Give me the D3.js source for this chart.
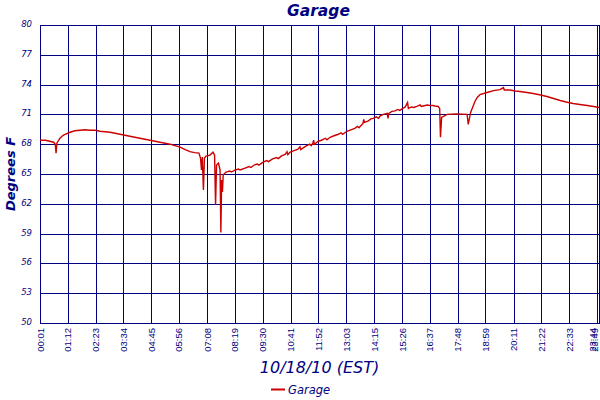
<!DOCTYPE html>
<html><head><meta charset="utf-8">
<script src="https://cdn.jsdelivr.net/npm/d3@7"></script>
<style>
html,body{margin:0;padding:0;background:#fff;}
svg{display:block;}
text{fill:#000080;}
</style></head>
<body><svg id="chart" width="600" height="400"></svg>
<script>
// ---- data ----
const chartTitle = "Garage";
const xAxisTitle = "10/18/10 (EST)";
const yAxisTitle = "Degrees F";
const seriesName = "Garage";
const xTickLabels = ["00:01","01:12","02:23","03:34","04:45","05:56","07:08","08:19","09:30","10:41","11:52","13:03","14:15","15:26","16:37","17:48","18:59","20:11","21:22","22:33","23:44","23:49"];
const yTicks = [50,53,56,59,62,65,68,71,74,77,80];
// readings: [minutes after midnight, degrees F]
const readings = [
  [1,68.4],[15,68.4],[26,68.3],[36,68.2],[40,68.0],[42,67.1],[44,68.1],[52,68.6],[60,68.9],[65,69.0],
  [78,69.2],[90,69.35],[103,69.4],[116,69.45],[129,69.4],[142,69.4],[154,69.3],[167,69.25],[180,69.2],
  [199,69.05],[218,68.9],[237,68.75],[256,68.6],[276,68.45],[295,68.3],[314,68.15],[333,68.0],[346,67.85],
  [359,67.7],[372,67.45],[384,67.25],[396,67.15],[407,67.1],[411,66.6],[413.5,65.4],[415.5,66.7],
  [418.5,63.4],[421,66.6],[425,66.8],[435,66.9],[443,67.2],[447,66.9],[449.5,61.9],[452,65.9],[457,66.1],
  [461,65.4],[463,59.1],[465,64.4],[467,63.2],[469,64.9],
  [476,65.2],[486,65.3],[490,65.2],[499,65.4],[508,65.5],[512,65.4],[525,65.6],[535,65.75],[540,65.65],
  [548,65.9],[556,66.0],[560,65.9],[571,66.2],[580,66.35],[585,66.25],[594,66.5],[605,66.65],[610,66.55],
  [617,66.8],[628,67.0],[632,67.25],[634,66.95],[640,67.2],[650,67.35],[660,67.5],[665,67.75],[667,67.45],
  [680,67.8],[690,68.0],[694,67.85],[698,68.1],[700,68.4],[702,68.0],[712,68.3],[720,68.4],[730,68.6],
  [734,68.45],[742,68.7],[752,68.85],[763,69.0],[770,69.15],[774,69.0],[785,69.3],[795,69.45],[805,69.6],
  [812,69.8],[816,69.65],[826,70.1],[828,70.5],[830,70.2],[840,70.35],[846,70.55],[852,70.6],[860,70.75],
  [866,70.6],[870,70.85],[878,71.0],[888,71.1],[890,70.6],[892,71.1],[900,71.3],[908,71.35],[915,71.5],
  [920,71.4],[928,71.6],[934,71.75],[940,72.2],[942,71.6],[950,71.75],[956,71.7],[964,71.8],[972,71.95],
  [975,71.8],[980,71.85],[990,71.95],[997,71.9],[1005,71.9],[1010,71.85],[1018,71.8],
  [1022,71.6],[1024,68.7],[1027,70.7],[1041,71.0],[1066,71.05],[1092,71.0],[1095,70.0],[1101,71.2],
  [1105,71.6],[1112,72.3],[1118,72.7],[1125,73.0],[1143,73.2],[1160,73.4],[1176,73.5],[1185,73.7],
  [1187,73.45],[1202,73.45],[1215,73.35],[1227,73.3],[1245,73.2],[1261,73.1],[1280,72.95],[1296,72.8],
  [1313,72.6],[1330,72.4],[1345,72.25],[1363,72.1],[1380,72.0],[1399,71.9],[1415,71.8],[1429,71.7]
];

// ---- layout ----
const svg = d3.select("#chart");
const L = 40, R = 599, T = 25, B = 323;
const toMin = s => { const [h,m] = s.split(":").map(Number); return h*60+m; };
const xTickVals = xTickLabels.map(toMin);
const nT = xTickVals.length;
const x = d3.scaleLinear().domain([xTickVals[0], xTickVals[nT-1]]).range([L, R]);
const y = d3.scaleLinear().domain([50, 80]).range([B, T]);
const navy = "#000080";
const px = v => Math.round(v) + 0.5;

// grid
const g = svg.append("g");
g.selectAll("line.h").data(yTicks).join("line")
  .attr("x1", L).attr("x2", R + 1)
  .attr("y1", d => px(y(d))).attr("y2", d => px(y(d)))
  .attr("stroke", navy).attr("stroke-width", 1);
g.selectAll("line.v").data(xTickVals).join("line")
  .attr("y1", T).attr("y2", B + 1)
  .attr("x1", d => px(x(d))).attr("x2", d => px(x(d)))
  .attr("stroke", navy).attr("stroke-width", 1);

// y labels
svg.append("g").selectAll("text").data(yTicks).join("text")
  .attr("x", 32).attr("y", d => y(d) + 2)
  .attr("text-anchor", "end")
  .attr("font-family", "DejaVu Sans").attr("font-style", "italic")
  .attr("font-size", 8.5)
  .text(d => d);

// x labels
svg.append("g").selectAll("text").data(xTickVals).join("text")
  .attr("transform", (d, i) => `translate(${Math.min(x(d) + 3.5, 598 - 2 * (nT - 1 - i))},${B + 5}) rotate(-90)`)
  .attr("text-anchor", "end")
  .attr("font-family", "Liberation Sans")
  .attr("font-size", 9.5)
  .text((d, i) => xTickLabels[i]);

// line
const line = d3.line().x(d => x(d[0])).y(d => y(d[1]));
svg.append("path").datum(readings)
  .attr("d", line).attr("fill", "none")
  .attr("stroke", "#cc0000").attr("stroke-width", 1.4)
  .attr("stroke-linejoin", "miter");

// titles
svg.append("text").attr("x", (L + R) / 2 - 1).attr("y", 16)
  .attr("text-anchor", "middle")
  .attr("font-family", "DejaVu Sans").attr("font-style", "italic").attr("font-weight", "bold")
  .attr("font-size", 15.5).text(chartTitle);
svg.append("text").attr("transform", `translate(15,${(T + B) / 2}) rotate(-90)`)
  .attr("text-anchor", "middle")
  .attr("font-family", "DejaVu Sans").attr("font-style", "italic").attr("font-weight", "bold")
  .attr("font-size", 13).text(yAxisTitle);
svg.append("text").attr("x", (L + R) / 2).attr("y", 373)
  .attr("text-anchor", "middle")
  .attr("font-family", "DejaVu Sans").attr("font-style", "italic")
  .attr("font-size", 16).text(xAxisTitle);

// legend
const lg = svg.append("g").attr("transform", "translate(271,389)");
lg.append("line").attr("x1", 0).attr("x2", 14).attr("y1", 0.5).attr("y2", 0.5)
  .attr("stroke", "#cc0000").attr("stroke-width", 2);
lg.append("text").attr("x", 17).attr("y", 4.5)
  .attr("font-family", "DejaVu Sans").attr("font-style", "italic")
  .attr("font-size", 11.5).text(seriesName);
</script></body></html>
